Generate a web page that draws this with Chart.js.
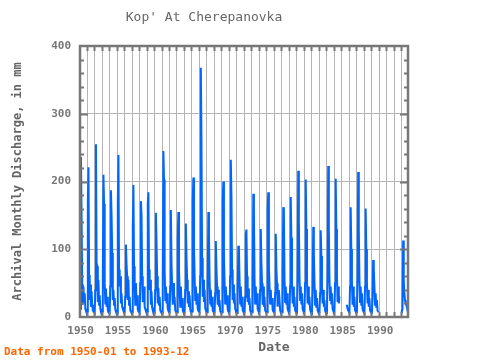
<!DOCTYPE html>
<html>
<head>
<meta charset="utf-8">
<script src="https://cdn.jsdelivr.net/npm/chart.js@4.4.1/dist/chart.umd.min.js"></script>
<style>
  html, body { margin: 0; padding: 0; background: #fff; }
  #wrap { width: 480px; height: 360px; }
</style>
</head>
<body>
<div id="wrap"><canvas id="graph"></canvas></div>
<script>
'use strict'

// monthly discharge (mm), Jan..Dec for each year, null = missing
const flow1950s = [
  8, 7, 12, 236, 142, 48, 18, 45, 22, 35, 12, 9,
  7, 8, 170, 221, 62, 25, 48, 15, 38, 18, 10, 8,
  7, 6, 40, 255, 80, 75, 22, 55, 18, 32, 12, 8,
  7, 8, 60, 210, 167, 50, 20, 42, 15, 30, 10, 7,
  6, 7, 45, 187, 150, 95, 25, 40, 18, 28, 11, 8,
  7, 6, 170, 239, 70, 45, 60, 20, 35, 15, 12, 9,
  7, 8, 30, 107, 77, 60, 25, 55, 18, 30, 10, 8,
  6, 7, 132, 195, 75, 45, 18, 50, 20, 32, 11, 8,
  7, 6, 50, 171, 151, 60, 22, 35, 45, 15, 12, 9,
  7, 8, 168, 184, 70, 40, 55, 18, 38, 14, 10, 7
];
const flow1960s = [
  6, 7, 40, 154, 110, 60, 20, 43, 18, 30, 10, 8,
  7, 6, 60, 245, 203, 70, 25, 45, 20, 35, 12, 9,
  7, 8, 45, 158, 80, 45, 18, 50, 22, 30, 10, 8,
  6, 7, 116, 155, 70, 40, 15, 45, 20, 28, 10, 7,
  6, 7, 40, 138, 90, 55, 20, 38, 15, 32, 11, 8,
  7, 8, 171, 206, 103, 60, 25, 45, 18, 35, 12, 9,
  8, 7, 60, 368, 257, 87, 30, 55, 22, 40, 13, 10,
  8, 7, 50, 155, 121, 55, 20, 40, 15, 30, 10, 8,
  6, 7, 35, 112, 70, 45, 18, 40, 15, 25, 9, 7,
  6, 7, 171, 200, 90, 50, 20, 45, 18, 32, 11, 8
];
const flow1970s = [
  7, 8, 60, 232, 178, 70, 25, 48, 20, 35, 12, 9,
  7, 6, 40, 105, 100, 55, 20, 45, 15, 30, 10, 8,
  6, 7, 30, 122, 129, 60, 22, 42, 18, 28, 10, 7,
  6, 7, 50, 182, 158, 55, 20, 45, 18, 35, 12, 9,
  7, 8, 40, 130, 80, 50, 18, 45, 15, 30, 10, 8,
  6, 7, 160, 184, 75, 45, 20, 40, 18, 28, 11, 8,
  7, 6, 35, 123, 70, 50, 15, 40, 20, 25, 10, 7,
  6, 7, 60, 162, 155, 55, 22, 45, 18, 35, 12, 9,
  7, 8, 45, 177, 117, 50, 20, 45, 15, 30, 10, 8,
  6, 7, 55, 216, 141, 60, 25, 45, 20, 35, 12, 9
];
const flow1980s = [
  7, 8, 50, 203, 130, 55, 20, 45, 18, 30, 11, 8,
  7, 6, 40, 133, 95, 50, 18, 40, 15, 28, 10, 7,
  6, 7, 35, 128, 90, 45, 20, 40, 15, 25, 10, 7,
  6, 7, 60, 223, 130, 55, 25, 45, 20, 35, 12, 9,
  7, 8, 50, 204, 130, 60, 22, 45, 20, 30, null, null,
  null, null, null, null, null, null, null, null, 15, 18, 12, 10,
  8, 7, 45, 162, 100, 50, 18, 45, 15, 30, 10, 8,
  7, 8, 60, 214, 130, 55, 22, 45, 18, 35, 12, 9,
  7, 6, 45, 160, 100, 50, 20, 40, 15, 28, 10, 8,
  6, 7, 30, 84, 70, 45, 18, 35, 15, 25, 10, 7
];
const flow1990s = [
  null, null, null, null, null, null, null, null, null, null, null, null,
  null, null, null, null, null, null, null, null, null, null, null, null,
  null, null, null, null, null, null, null, null, null, null, null, null,
  10, 9, 12, 113, 55, 34, 25, 20, 18, 14, 12, 11
];
const firstYear = 1950;
const labelYears = [1950, 1955, 1960, 1965, 1970, 1975, 1980, 1985, 1990];
const yTicks = [0, 100, 200, 300, 400];

const allFlow = flow1950s.concat(flow1960s, flow1970s, flow1980s, flow1990s);
const points = allFlow.map((v, i) => ({ x: firstYear + i / 12, y: v }));

const grey = '#777';
const mono = 'DejaVu Sans Mono';

// year grid, inward ticks, frame and text notes
const decor = {
  id: 'decor',
  beforeDatasetsDraw(chart) {
    const { ctx, chartArea: a, scales: { x } } = chart;
    ctx.save();
    ctx.strokeStyle = '#b4b4b4';
    ctx.lineWidth = 1;
    for (let yr = 1951; yr <= 1993; yr++) {
      const px = Math.round(x.getPixelForValue(yr)) + 0.5;
      ctx.beginPath();
      ctx.moveTo(px, a.top);
      ctx.lineTo(px, a.bottom);
      ctx.stroke();
    }
    ctx.restore();
  },
  afterDatasetsDraw(chart) {
    const { ctx, chartArea: a, scales: { x, y } } = chart;
    ctx.save();
    ctx.strokeStyle = grey;
    ctx.lineWidth = 2;
    for (let yr = 1951; yr <= 1993; yr++) {
      const px = Math.round(x.getPixelForValue(yr)) + 0.5;
      ctx.beginPath();
      ctx.moveTo(px, a.top);
      ctx.lineTo(px, a.top + 5);
      ctx.moveTo(px, a.bottom);
      ctx.lineTo(px, a.bottom - 5);
      ctx.stroke();
    }
    for (let v = 20; v < 400; v += 20) {
      const py = Math.round(y.getPixelForValue(v)) + 0.5;
      const len = v % 100 === 0 ? 8 : 4;
      ctx.beginPath();
      ctx.moveTo(a.left, py);
      ctx.lineTo(a.left + len, py);
      ctx.moveTo(a.right, py);
      ctx.lineTo(a.right - len, py);
      ctx.stroke();
    }
    ctx.lineWidth = 2.5;
    ctx.strokeRect(a.left, a.top, a.right - a.left, a.bottom - a.top);

    ctx.textBaseline = 'middle';
    ctx.textAlign = 'center';
    ctx.fillStyle = '#666';
    ctx.font = 'bold 13px ' + mono;
    ctx.fillText('Date', 274, 348);

    ctx.textAlign = 'left';
    ctx.fillStyle = '#ff6600';
    ctx.font = 'bold 11px ' + mono;
    ctx.fillText('Data from 1950-01 to 1993-12', 4, 352);
    ctx.restore();
  }
};

new Chart(document.getElementById('graph'), {
  type: 'line',
  data: {
    datasets: [{
      data: points,
      borderColor: '#0066ff',
      borderWidth: 2,
      pointRadius: 0,
      tension: 0,
      spanGaps: false
    }]
  },
  options: {
    responsive: true,
    maintainAspectRatio: false,
    animation: false,
    layout: { padding: { left: 0, right: 72, top: 0, bottom: 0 } },
    plugins: {
      legend: { display: false },
      tooltip: { enabled: false },
      title: {
        display: true,
        text: "Kop' At Cherepanovka",
        color: '#666',
        font: { family: mono, size: 13, weight: 'normal' },
        padding: { top: 10, bottom: 20.4 }
      }
    },
    scales: {
      x: {
        type: 'linear',
        min: 1950.12,
        max: 1993.9,
        afterBuildTicks: s => { s.ticks = labelYears.map(v => ({ value: v + 0.19 })); },
        afterFit: s => { s.height = 43; },
        ticks: {
          autoSkip: false,
          maxRotation: 0,
          padding: 8,
          color: grey,
          font: { family: mono, size: 11, weight: 'bold' },
          callback: v => String(Math.floor(v))
        },
        grid: { display: false, drawTicks: false },
        border: { display: false }
      },
      y: {
        min: 0,
        max: 400,
        afterBuildTicks: s => { s.ticks = yTicks.map(v => ({ value: v })); },
        afterFit: s => { s.width = 80; },
        ticks: {
          padding: 9,
          color: grey,
          font: { family: mono, size: 11, weight: 'bold' }
        },
        grid: { color: '#b4b4b4', drawTicks: false },
        border: { display: false },
        title: {
          display: true,
          text: 'Archival Monthly Discharge, in mm',
          color: '#666',
          font: { family: mono, size: 12, weight: 'bold' },
          padding: { top: 11, bottom: 0 }
        }
      }
    }
  },
  plugins: [decor]
});
</script>
</body>
</html>
